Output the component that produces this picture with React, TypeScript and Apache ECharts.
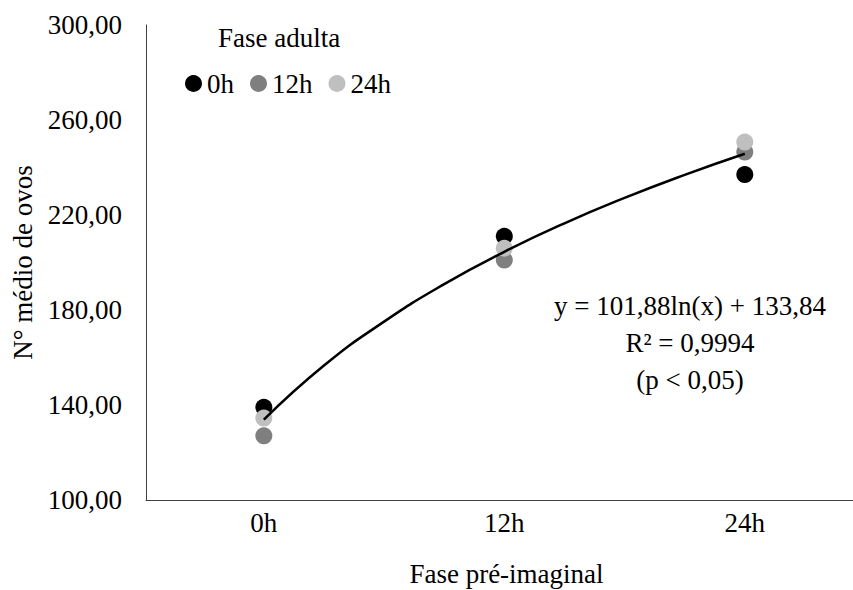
import React, { useEffect, useRef } from "react";
import * as echarts from "echarts";

const categories = ["0h", "12h", "24h"];
const categoryX = [1, 2, 3];
const seriesNames = ["0h", "12h", "24h"];
const values0h = [139, 211, 237];
const values12h = [127, 201, 246.5];
const values24h = [134.5, 206, 250.7];
const trendX = [1, 1.25, 1.5, 1.75, 2, 2.25, 2.5, 2.75, 3];
const trendY = [133.8, 156.6, 175.1, 190.9, 204.5, 216.5, 227.2, 236.9, 245.8];
const yTicks = { min: 100, max: 300, interval: 40 };
const equationLines = ["y = 101,88ln(x) + 133,84", "R² = 0,9994", "(p < 0,05)"];
const colors = ["#000000", "#7f7f7f", "#bfbfbf"];

const FONT = "Liberation Serif";

export default function App() {
  const ref = useRef<HTMLDivElement>(null);
  useEffect(() => {
    if (!ref.current) return;
    const chart = echarts.init(ref.current, null, { renderer: "svg" });
    const allValues = [values0h, values12h, values24h];
    chart.setOption({
      animation: false,
      backgroundColor: "#ffffff",
      textStyle: { fontFamily: FONT },
      grid: {
        left: 146,
        right: 0,
        top: 25,
        bottom: 90,
        containLabel: false,
        outerBoundsMode: "none",
      },
      legend: {
        data: seriesNames,
        left: 180,
        top: 65,
        icon: "circle",
        itemWidth: 17,
        itemHeight: 17,
        itemGap: 16,
        textStyle: { fontFamily: FONT, fontSize: 27, color: "#000" },
      },
      graphic: [
        {
          type: "text",
          left: 218,
          top: 24,
          style: { text: "Fase adulta", font: `27px ${FONT}`, fill: "#000" },
        },
        ...equationLines.map((t, i) => ({
          type: "text",
          x: 690,
          y: 306 + i * 37,
          style: {
            text: t,
            font: `27px ${FONT}`,
            fill: "#000",
            textAlign: "center",
            textVerticalAlign: "middle",
          },
        })),
      ],
      xAxis: {
        type: "value",
        min: 0.51,
        max: 3.45,
        name: "Fase pré-imaginal",
        nameLocation: "middle",
        nameGap: 60,
        nameTextStyle: { fontFamily: FONT, fontSize: 27, color: "#000", padding: [0, 0, 0, 14] },
        axisLine: { show: true, lineStyle: { color: "#404040", width: 1 } },
        axisTick: { show: false },
        splitLine: { show: false },
        axisLabel: {
          customValues: categoryX,
          formatter: (v: number) => categories[Math.round(v) - 1] ?? "",
          fontFamily: FONT,
          fontSize: 27,
          color: "#000",
          margin: 9,
        },
      },
      yAxis: {
        type: "value",
        min: yTicks.min,
        max: yTicks.max,
        interval: yTicks.interval,
        name: "N° médio de ovos",
        nameLocation: "middle",
        nameGap: 106,
        nameRotate: 90,
        nameTextStyle: { fontFamily: FONT, fontSize: 27, color: "#000" },
        axisLine: { show: true, lineStyle: { color: "#404040", width: 1 } },
        axisTick: { show: false },
        splitLine: { show: false },
        axisLabel: {
          formatter: (v: number) => v.toFixed(2).replace(".", ","),
          fontFamily: FONT,
          fontSize: 27,
          color: "#000",
          margin: 24,
        },
      },
      series: [
        ...seriesNames.map((name, i) => ({
          name,
          type: "scatter",
          symbol: "circle",
          symbolSize: 17,
          itemStyle: { color: colors[i], opacity: 1 },
          data: categoryX.map((x, j) => [x, allValues[i][j]]),
          z: 2 + i,
        })),
        {
          name: "trend",
          type: "line",
          smooth: true,
          showSymbol: false,
          symbol: "none",
          lineStyle: { color: "#000", width: 2.5 },
          data: trendX.map((x, i) => [x, trendY[i]]),
          z: 10,
        },
      ],
    });
    return () => chart.dispose();
  }, []);
  return (
    <div
      ref={ref}
      style={{ position: "absolute", left: 0, top: 0, width: 853, height: 590 }}
    />
  );
}
